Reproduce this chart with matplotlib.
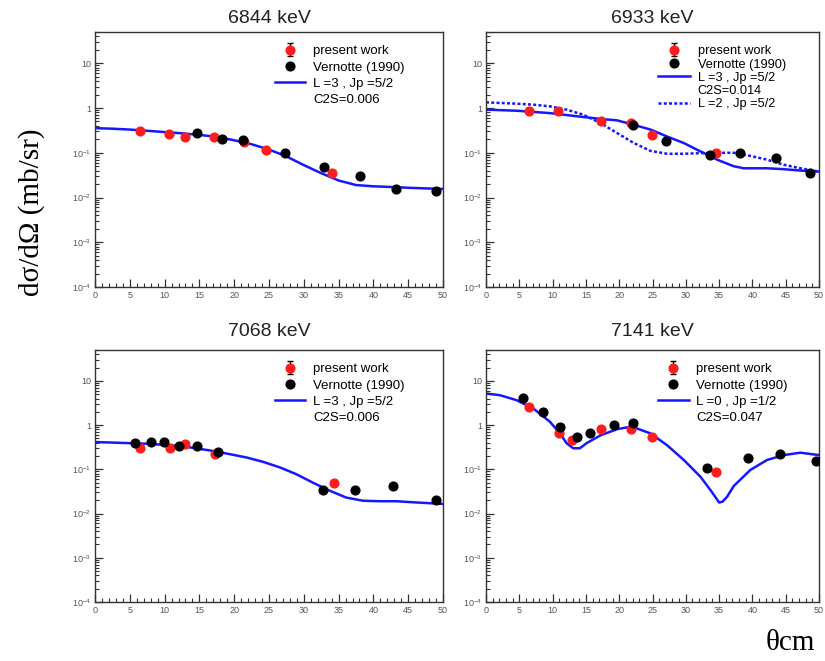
import numpy as np
import matplotlib
matplotlib.use("Agg")
import matplotlib.pyplot as plt
from matplotlib.ticker import LogLocator, MultipleLocator, FixedLocator, NullFormatter
from matplotlib.lines import Line2D

plt.rcParams['font.family'] = ['Liberation Sans', 'DejaVu Sans']
plt.rcParams['mathtext.fontset'] = 'custom'
plt.rcParams['mathtext.rm'] = 'Liberation Sans'
plt.rcParams['mathtext.it'] = 'Liberation Sans:italic'

# ---------------- data ----------------
titles = ["6844 keV", "6933 keV", "7068 keV", "7141 keV"]
ytick_vals = [1e-4, 1e-3, 1e-2, 1e-1, 1, 10]
ytick_labels = [r"$10^{-4}$", r"$10^{-3}$", r"$10^{-2}$", r"$10^{-1}$", "1", "10"]
xtick_vals = [0, 5, 10, 15, 20, 25, 30, 35, 40, 45, 50]

# 6844 keV
p1_red_x = [6.4, 10.6, 12.9, 17.1, 21.4, 24.6, 34.1]
p1_red_y = [0.31, 0.26, 0.23, 0.22, 0.17, 0.113, 0.036]
p1_blk_x = [14.6, 18.2, 21.3, 27.3, 32.9, 38.1, 43.3, 49.0]
p1_blk_y = [0.275, 0.20, 0.195, 0.098, 0.049, 0.030, 0.0156, 0.014]
p1_fit_x = [0, 2.5, 5, 7.5, 10, 12.5, 15, 17.5, 20, 22.5, 25, 27.5, 30, 32.5, 35,
            37.5, 40, 42.5, 45, 47.5, 50]
p1_fit_y = [0.355, 0.345, 0.33, 0.31, 0.29, 0.272, 0.25, 0.228, 0.19, 0.155, 0.118,
            0.083, 0.053, 0.035, 0.024, 0.019, 0.0178, 0.0172, 0.0165, 0.016, 0.0155]

# 6933 keV
p2_red_x = [6.5, 10.8, 17.3, 21.7, 24.9, 34.6]
p2_red_y = [0.87, 0.84, 0.50, 0.46, 0.25, 0.10]
p2_blk_x = [22.1, 27.1, 33.7, 38.2, 43.6, 48.6]
p2_blk_y = [0.42, 0.186, 0.089, 0.099, 0.076, 0.036]
p2_fit3_x = [0, 4.6, 9.6, 14.6, 17.2, 19.7, 22.2, 24.7, 27.2, 29.7, 32.2, 33.7, 34.7,
             37.2, 38.7, 42.2, 44.7, 47.2, 50]
p2_fit3_y = [0.92, 0.87, 0.77, 0.63, 0.57, 0.53, 0.42, 0.33, 0.23, 0.165, 0.107, 0.085,
             0.07, 0.05, 0.045, 0.045, 0.043, 0.040, 0.038]
p2_fit2_x = [0, 4.6, 7.1, 9.6, 12.1, 14.6, 17.2, 19.7, 22.2, 24.7, 27.2, 29.7, 32.2,
             34.7, 37.2, 39.7, 42.2, 44.7, 47.2, 50]
p2_fit2_y = [1.34, 1.25, 1.19, 1.09, 0.92, 0.71, 0.46, 0.275, 0.165, 0.11, 0.095, 0.095,
             0.098, 0.10, 0.10, 0.085, 0.07, 0.054, 0.045, 0.038]

# 7068 keV
p3_red_x = [6.5, 10.8, 12.9, 17.2, 34.3]
p3_red_y = [0.31, 0.31, 0.37, 0.22, 0.049]
p3_blk_x = [5.7, 8.1, 9.9, 12.0, 14.7, 17.7, 32.8, 37.3, 42.8, 49.0]
p3_blk_y = [0.40, 0.42, 0.42, 0.34, 0.34, 0.25, 0.035, 0.035, 0.041, 0.020]
p3_fit_x = [0, 7.4, 12.2, 17.0, 19.4, 21.8, 24.2, 26.6, 28.9, 31.3, 33.7, 36.1, 38.5,
            40.9, 43.3, 45.7, 50]
p3_fit_y = [0.415, 0.38, 0.34, 0.26, 0.22, 0.185, 0.147, 0.11, 0.078, 0.05, 0.033,
            0.023, 0.0195, 0.019, 0.019, 0.018, 0.0165]

# 7141 keV
p4_red_x = [6.5, 10.9, 12.9, 17.3, 21.7, 24.9, 34.6]
p4_red_y = [2.6, 0.67, 0.46, 0.80, 0.80, 0.55, 0.089]
p4_blk_x = [5.6, 8.6, 11.1, 13.6, 15.6, 19.2, 22.1, 33.2, 39.3, 44.1, 49.6]
p4_blk_y = [4.2, 1.96, 0.92, 0.55, 0.68, 1.02, 1.09, 0.105, 0.177, 0.22, 0.158]
p4_fit_x = [0, 2.1, 4.6, 7.1, 9.6, 11.1, 12.1, 13.1, 14.1, 15.1, 17.2, 19.7, 21.2, 22.2,
            24.7, 27.2, 29.7, 32.2, 33.7, 34.5, 35.0, 35.5, 36.2, 37.2, 39.7, 42.2,
            44.7, 47.2, 50]
p4_fit_y = [5.2, 4.75, 3.66, 2.38, 1.19, 0.65, 0.39, 0.30, 0.30, 0.39, 0.59, 0.81, 0.89,
            0.89, 0.65, 0.35, 0.163, 0.068, 0.034, 0.023, 0.0178, 0.0185, 0.024, 0.042,
            0.097, 0.163, 0.21, 0.238, 0.21]

legend_labels = {
    0: ["present work", "Vernotte (1990)", "L =3 , Jp =5/2", "C2S=0.006"],
    1: ["present work", "Vernotte (1990)", "L =3 , Jp =5/2", "C2S=0.014", "L =2 , Jp =5/2"],
    2: ["present work", "Vernotte (1990)", "L =3 , Jp =5/2", "C2S=0.006"],
    3: ["present work", "Vernotte (1990)", "L =0 , Jp =1/2", "C2S=0.047"],
}

RED = "#ff1c1c"
BLUE = "#1616ff"
MS = 6.3

W, H = 825, 661
fig = plt.figure(figsize=(W / 100, H / 100), dpi=100)


def rect(l, r, t, b):
    return [l / W, 1 - b / H, (r - l) / W, (b - t) / H]


rects = [rect(95, 443, 32, 287), rect(486, 819, 32, 287),
         rect(95, 443, 350, 602), rect(486, 819, 350, 602)]

panels = [
    (p1_red_x, p1_red_y, p1_blk_x, p1_blk_y, [(p1_fit_x, p1_fit_y, "-")]),
    (p2_red_x, p2_red_y, p2_blk_x, p2_blk_y, [(p2_fit3_x, p2_fit3_y, "-"), (p2_fit2_x, p2_fit2_y, ":")]),
    (p3_red_x, p3_red_y, p3_blk_x, p3_blk_y, [(p3_fit_x, p3_fit_y, "-")]),
    (p4_red_x, p4_red_y, p4_blk_x, p4_blk_y, [(p4_fit_x, p4_fit_y, "-")]),
]

for i, (rx, ry, bx, by, fits) in enumerate(panels):
    ax = fig.add_axes(rects[i])
    ax.set_yscale("log")
    ax.set_xlim(0, 50)
    ax.set_ylim(1e-4, 50)
    fit_handles = []
    for fx, fy, ls in fits:
        if ls == ":":
            h, = ax.plot(fx, fy, color=BLUE, lw=1.8, ls=(0, (1.2, 0.9)), zorder=2)
        else:
            h, = ax.plot(fx, fy, color=BLUE, lw=1.8, ls="-", zorder=2)
        fit_handles.append(h)
    ax.plot(rx, ry, "o", color=RED, ms=MS, mec=RED, zorder=3)
    ax.plot(bx, by, "o", color="black", ms=MS, zorder=4)

    # legend handles
    pw = ax.errorbar([np.nan], [np.nan], yerr=[np.nan], fmt="o", color=RED, ecolor="black",
                     ms=MS, capsize=2.0, elinewidth=1.0)
    vh = Line2D([], [], marker="o", ls="none", color="black", ms=MS)
    blank = Line2D([], [], ls="none")
    labs = legend_labels[i]
    handles = [pw, vh, fit_handles[0], blank]
    five = len(labs) == 5
    if five:
        handles.append(fit_handles[1])
    ax.legend(handles, labs, loc="upper left", bbox_to_anchor=(0.517, 0.948),
              frameon=False, fontsize=(9.2 if five else 9.5),
              handlelength=(2.5 if five else 2.3), handletextpad=0.6,
              labelspacing=(0.1 if five else 0.3),
              borderpad=0, borderaxespad=0)

    ax.yaxis.set_major_locator(FixedLocator(ytick_vals))
    ax.set_yticklabels(ytick_labels)
    ax.yaxis.set_minor_locator(LogLocator(base=10, subs=np.arange(2, 10), numticks=30))
    ax.yaxis.set_minor_formatter(NullFormatter())
    ax.xaxis.set_major_locator(FixedLocator(xtick_vals))
    ax.set_xticklabels([str(v) for v in xtick_vals])
    ax.xaxis.set_minor_locator(MultipleLocator(1))
    ax.tick_params(which="both", direction="in", top=False, right=False,
                   labelsize=6.5, labelcolor="#555555", color="#333333")
    ax.tick_params(which="major", length=6, width=0.9, pad=3)
    ax.tick_params(which="minor", length=3, width=0.8)
    for s in ax.spines.values():
        s.set_color("#333333")
        s.set_linewidth(1.0)

    cx = rects[i][0] + rects[i][2] / 2
    ty = 23 if i < 2 else 336
    fig.text(cx, 1 - ty / H, titles[i], ha="center", va="baseline", fontsize=14, color="#222222")

fig.text(32 / W, 1 - 212 / H, "dσ/dΩ (mb/sr)", rotation=90, ha="center", va="center",
         family=["Liberation Serif", "DejaVu Serif"], fontsize=21)
fig.text(790 / W, 1 - 643 / H, "θcm", ha="center", va="center",
         family=["Liberation Serif", "DejaVu Serif"], fontsize=21)

fig.savefig("out.png", dpi=100)
